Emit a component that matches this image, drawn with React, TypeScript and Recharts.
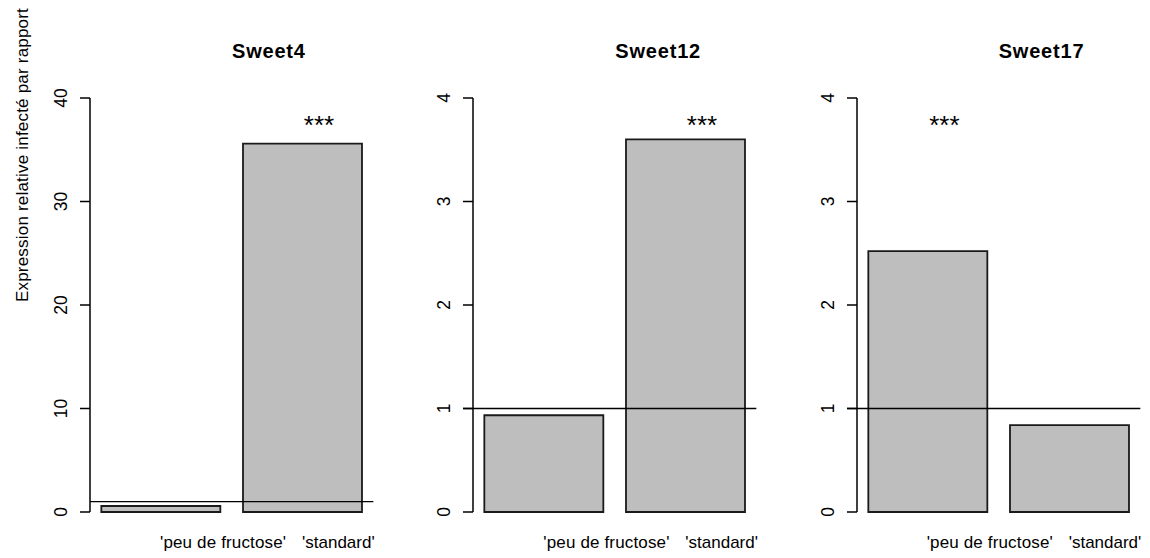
import { BarChart, Bar, XAxis, YAxis, ReferenceLine, ReferenceDot } from 'recharts'

const categories = ["'peu de fructose'", "'standard'"]
const panelTitles = ['Sweet4', 'Sweet12', 'Sweet17']
const sweet4Values = [0.58, 35.6]
const sweet12Values = [0.935, 3.6]
const sweet17Values = [2.52, 0.84]
const sweet4Ticks = [0, 10, 20, 30, 40]
const smallTicks = [0, 1, 2, 3, 4]
const starCategory = [1, 1, 0]
const starValues = [38, 3.8, 3.8]
const referenceValue = 1
const yLabel = 'Expression relative infecté par rapport'

const FONT = '"Liberation Sans", Arial, Helvetica, sans-serif'
const W = 1150
const H = 558
const PANEL_W = W / 3

type Panel = {
  title: string
  values: number[]
  ticks: number[]
  star: number
  starY: number
  lineExtend: number
}

const panels: Panel[] = [
  { title: panelTitles[0], values: sweet4Values, ticks: sweet4Ticks, star: starCategory[0], starY: starValues[0], lineExtend: 0 },
  { title: panelTitles[1], values: sweet12Values, ticks: smallTicks, star: starCategory[1], starY: starValues[1], lineExtend: 10 },
  { title: panelTitles[2], values: sweet17Values, ticks: smallTicks, star: starCategory[2], starY: starValues[2], lineExtend: 10 },
]

function RotatedTick(props: any) {
  const { x, y, payload } = props
  return (
    <text
      transform={`translate(${x - 13},${y}) rotate(-90)`}
      textAnchor="middle"
      fontFamily={FONT}
      fontSize={17.5}
      fill="#000"
    >
      {payload.value}
    </text>
  )
}

function PanelChart({ panel }: { panel: Panel }) {
  const data = categories.map((c, i) => ({ name: c, value: panel.values[i] }))
  const top = panel.ticks[panel.ticks.length - 1]
  return (
    <BarChart
      width={PANEL_W}
      height={H}
      data={data}
      margin={{ top: 98, right: 10, bottom: 46, left: 0 }}
      barCategoryGap="8%"
    >
      <XAxis dataKey="name" hide />
      <YAxis
        width={90}
        domain={[0, top]}
        ticks={panel.ticks}
        tick={<RotatedTick />}
        tickSize={10}
        tickMargin={0}
        axisLine={{ stroke: '#000', strokeWidth: 1.5 }}
        tickLine={{ stroke: '#000', strokeWidth: 1.5 }}
        interval={0}
      />
      <Bar dataKey="value" fill="#bebebe" stroke="#1a1a1a" strokeWidth={1.8} isAnimationActive={false} />
      <ReferenceLine
        y={referenceValue}
        shape={(p: any) => (
          <line x1={p.x1 - panel.lineExtend} y1={p.y1} x2={p.x2} y2={p.y2} stroke="#000" strokeWidth={1.4} />
        )}
      />
      <ReferenceDot
        x={categories[panel.star]}
        y={panel.starY}
        r={0}
        shape={(p: any) => (
          <text x={p.cx + 16.5} y={p.cy + 15} textAnchor="middle" fontFamily={FONT} fontSize={26} fill="#000">
            ***
          </text>
        )}
      />
    </BarChart>
  )
}

export default function App() {
  return (
    <div style={{ position: 'absolute', left: 0, top: 0, width: W, height: H, background: '#fff' }}>
      {panels.map((p, i) => (
        <div key={p.title} style={{ position: 'absolute', left: i * PANEL_W, top: 0 }}>
          <PanelChart panel={p} />
        </div>
      ))}
      <svg width={W} height={H} style={{ position: 'absolute', left: 0, top: 0, pointerEvents: 'none' }}>
        <text
          transform="translate(28,155) rotate(-90)"
          textAnchor="middle"
          fontFamily={FONT}
          fontSize={17}
          letterSpacing={0.2}
          fill="#000"
        >
          {yLabel}
        </text>
        {panels.map((p, i) => (
          <g key={p.title}>
            <text x={i * PANEL_W + 232} y={58} fontFamily={FONT} fontSize={20} fontWeight="bold" letterSpacing={0.8} fill="#000">
              {p.title}
            </text>
            <text x={i * PANEL_W + 160} y={548} fontFamily={FONT} fontSize={17} letterSpacing={0.15} fill="#000">
              {categories[0]}
            </text>
            <text x={i * PANEL_W + 302} y={548} fontFamily={FONT} fontSize={17} fill="#000">
              {categories[1]}
            </text>
          </g>
        ))}
      </svg>
    </div>
  )
}
